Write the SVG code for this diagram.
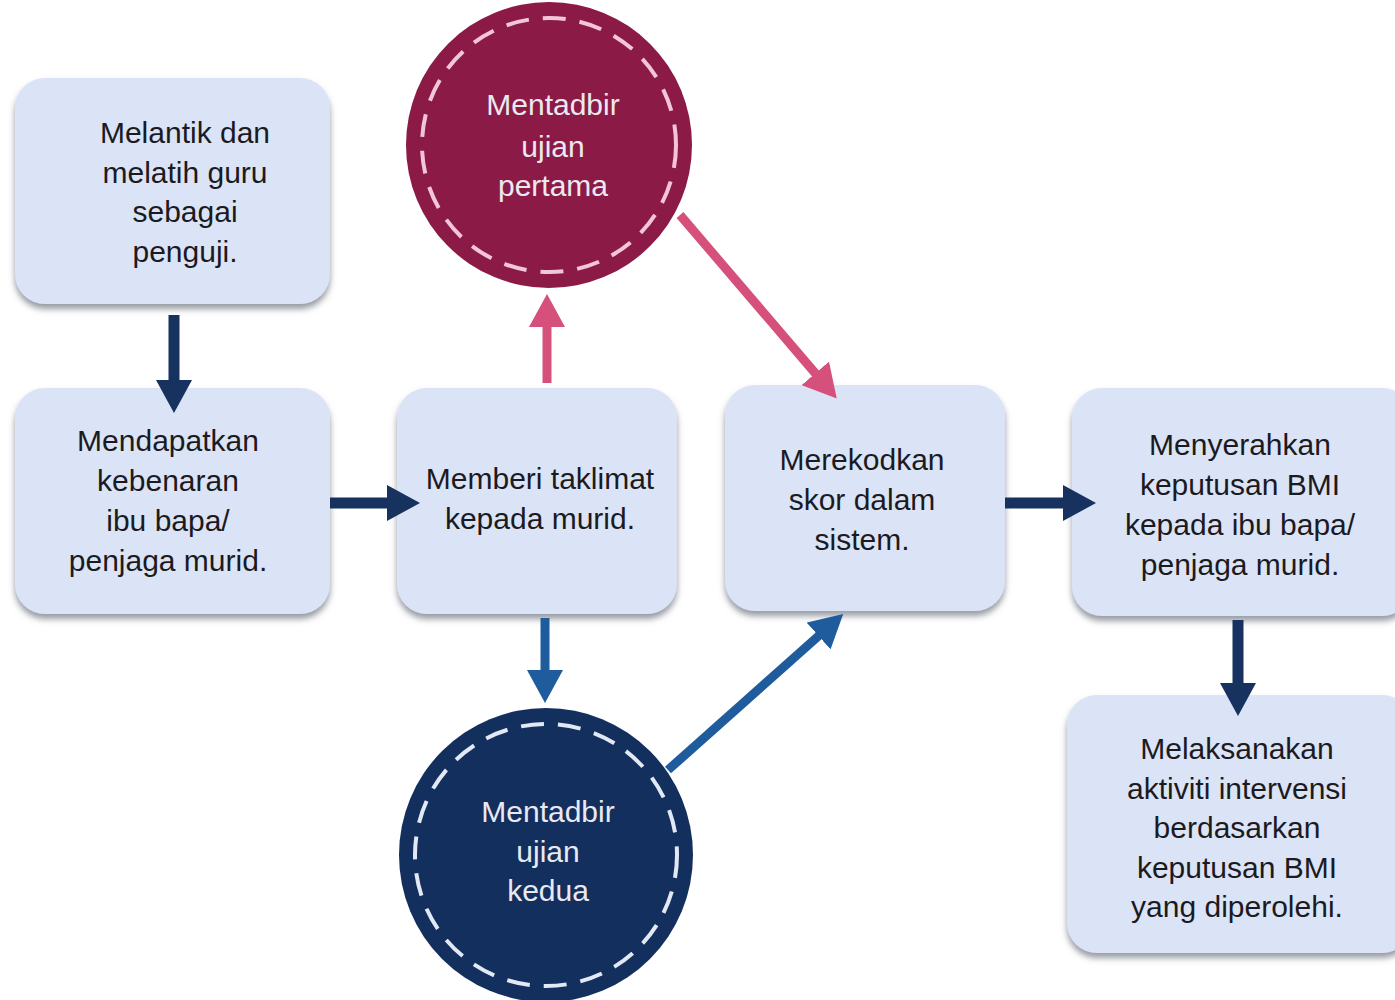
<svg xmlns="http://www.w3.org/2000/svg" width="1395" height="1000" viewBox="0 0 1395 1000">
<style>
.box{fill:#dbe3f6;filter:url(#sh);}
.bt{font-family:"Liberation Sans",Arial,sans-serif;font-size:30px;fill:#1b1b1f;text-anchor:middle;}
.ct{font-family:"Liberation Sans",Arial,sans-serif;font-size:30px;fill:#ebe9f0;text-anchor:middle;}
.navy{stroke:#17325f;stroke-width:11;fill:none;marker-end:url(#mNavy);}
.pink{stroke:#d5507a;stroke-width:9;fill:none;marker-end:url(#mPink);}
.blue{stroke:#1e5c9e;stroke-width:9;fill:none;marker-end:url(#mBlue);}
</style>
<defs>
<filter id="sh" x="-10%" y="-10%" width="120%" height="125%">
<feDropShadow dx="0" dy="5" stdDeviation="3" flood-color="#6b6f7c" flood-opacity="0.7"/>
</filter>
<marker id="mNavy" markerUnits="userSpaceOnUse" markerWidth="34" markerHeight="36" refX="18" refY="18" orient="auto"><path d="M0,0 L33,18 L0,36 z" fill="#17325f"/></marker>
<marker id="mPink" markerUnits="userSpaceOnUse" markerWidth="34" markerHeight="36" refX="18" refY="18" orient="auto"><path d="M0,0 L33,18 L0,36 z" fill="#d5507a"/></marker>
<marker id="mBlue" markerUnits="userSpaceOnUse" markerWidth="34" markerHeight="36" refX="18" refY="18" orient="auto"><path d="M0,0 L33,18 L0,36 z" fill="#1e5c9e"/></marker>
</defs>
<rect width="1395" height="1000" fill="#ffffff"/>

<g id="n1">
<rect class="box" x="15" y="78" width="315" height="226" rx="30"/>
<text class="bt"><tspan x="185" y="143">Melantik dan</tspan><tspan x="185" y="183">melatih guru</tspan><tspan x="185" y="222">sebagai</tspan><tspan x="185" y="262">penguji.</tspan></text>
</g>
<g id="n2">
<rect class="box" x="15" y="388" width="315" height="226" rx="30"/>
<text class="bt"><tspan x="168" y="451">Mendapatkan</tspan><tspan x="168" y="491">kebenaran</tspan><tspan x="168" y="531">ibu bapa/</tspan><tspan x="168" y="571">penjaga murid.</tspan></text>
</g>
<g id="n3">
<rect class="box" x="397" y="388" width="280" height="226" rx="30"/>
<text class="bt"><tspan x="540" y="489">Memberi taklimat</tspan><tspan x="540" y="529">kepada murid.</tspan></text>
</g>
<g id="n4">
<rect class="box" x="725" y="385" width="280" height="226" rx="30"/>
<text class="bt"><tspan x="862" y="470">Merekodkan</tspan><tspan x="862" y="510">skor dalam</tspan><tspan x="862" y="550">sistem.</tspan></text>
</g>
<g id="n5">
<rect class="box" x="1072" y="388" width="340" height="228" rx="30"/>
<text class="bt"><tspan x="1240" y="455">Menyerahkan</tspan><tspan x="1240" y="495">keputusan BMI</tspan><tspan x="1240" y="535">kepada ibu bapa/</tspan><tspan x="1240" y="575">penjaga murid.</tspan></text>
</g>
<g id="n6">
<rect class="box" x="1067" y="695" width="345" height="258" rx="30"/>
<text class="bt"><tspan x="1237" y="759">Melaksanakan</tspan><tspan x="1237" y="799">aktiviti intervensi</tspan><tspan x="1237" y="838">berdasarkan</tspan><tspan x="1237" y="878">keputusan BMI</tspan><tspan x="1237" y="917">yang diperolehi.</tspan></text>
</g>
<g id="c1">
<circle cx="549" cy="145" r="143" fill="#8c1a46"/>
<circle cx="549" cy="145" r="127" fill="none" stroke="#f2c6da" stroke-width="4" stroke-dasharray="23 14"/>
<text class="ct"><tspan x="553" y="115">Mentadbir</tspan><tspan x="553" y="157">ujian</tspan><tspan x="553" y="196">pertama</tspan></text>
</g>
<g id="c2">
<circle cx="546" cy="855" r="147" fill="#132f5e"/>
<circle cx="546" cy="855" r="131" fill="none" stroke="#e3e9f4" stroke-width="4" stroke-dasharray="23 14"/>
<text class="ct"><tspan x="548" y="822">Mentadbir</tspan><tspan x="548" y="862">ujian</tspan><tspan x="548" y="901">kedua</tspan></text>
</g>

<g id="connectors">
<line class="navy" x1="174" y1="315" x2="174" y2="398"/>
<line class="navy" x1="330" y1="503" x2="405" y2="503"/>
<line class="pink" x1="547" y1="383" x2="547" y2="309"/>
<line class="pink" x1="680" y1="215" x2="827" y2="387"/>
<line class="blue" x1="545" y1="618" x2="545" y2="688"/>
<line class="blue" x1="668" y1="770" x2="832" y2="624"/>
<line class="navy" x1="1005" y1="503" x2="1081" y2="503"/>
<line class="navy" x1="1238" y1="620" x2="1238" y2="701"/>
</g>
</svg>
